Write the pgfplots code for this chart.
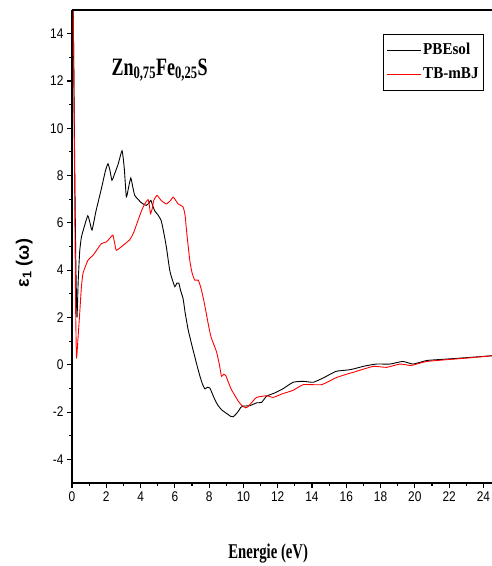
\documentclass[border=0pt]{standalone}
\usepackage{fontspec}
\setmainfont{Liberation Serif}
\newfontfamily\tickfont[FakeStretch=0.85]{Liberation Sans}
\newfontfamily\labsans{Liberation Sans}
\newfontfamily\titleserif[FakeStretch=0.72]{Liberation Serif}
\newfontfamily\xlabserif[FakeStretch=0.70]{Liberation Serif}
\newfontfamily\legserif[FakeStretch=0.91]{Liberation Serif}
\usepackage{pgfplots}
\pgfplotsset{compat=1.18}

\begin{document}
\begin{tikzpicture}
\path[use as bounding box] (-72pt,-83pt) rectangle (420pt,483pt);
\begin{axis}[
  at={(0,0)}, anchor=south west,
  scale only axis, width=420pt, height=473pt,
  xmin=0, xmax=24.5, ymin=-5, ymax=15,
  axis x line*=bottom, axis y line*=left,
  axis line style={line width=1.1pt, -},
  xtick={0,2,...,24}, ytick={-4,-2,...,14},
  minor x tick num=1, minor y tick num=1,
  tick align=outside,
  major tick length=5pt, minor tick length=3pt,
  every tick/.style={line width=1.1pt, black},
  /pgf/number format/assume math mode=true,
  ticklabel style={font=\tickfont\fontsize{14}{14}\selectfont},
  xlabel={Energie (eV)},
  xlabel style={at={(axis description cs:0.467,-0.150)}, anchor=center,
    font=\xlabserif\bfseries\fontsize{21}{21}\selectfont},
  ylabel={ε\textsubscript{1} (ω)},
  ylabel style={at={(axis description cs:-0.114,0.465)}, anchor=center,
    font=\labsans\bfseries\fontsize{18}{18}\selectfont},
  legend cell align=left,
  legend image code/.code={\draw[#1, line width=0.9pt] (0pt,0pt) -- (34pt,0pt);},
  legend style={at={(0.981,0.949)}, anchor=north east, draw=black,
    line width=0.8pt, inner xsep=3pt, inner ysep=4pt,
    nodes={text height=14pt, text depth=6pt},
    font=\legserif\bfseries\fontsize{16.6}{18}\selectfont},
]
% PBEsol
\addplot[black, line width=0.9pt, smooth, tension=0.3] coordinates {
(0.06,16) (0.15,9) (0.22,4.5) (0.29,2.0) (0.36,3.5) (0.45,4.8) (0.55,5.4)
(0.7,5.8) (0.92,6.3) (1.05,6.0) (1.17,5.7) (1.4,6.5) (1.7,7.4) (1.95,8.2)
(2.1,8.5) (2.22,8.2) (2.33,7.8) (2.5,8.1) (2.7,8.5) (2.92,9.05) (3.05,8.3)
(3.17,7.1) (3.3,7.5) (3.43,7.9) (3.55,7.5) (3.66,7.16) (3.85,7.0) (4.0,6.88)
(4.15,6.8) (4.34,6.74) (4.5,6.85) (4.6,6.95) (4.72,6.7) (4.83,6.5) (5.0,6.35)
(5.2,6.1) (5.35,5.6) (5.5,5.0) (5.7,4.0) (5.85,3.6) (6.0,3.3) (6.12,3.45)
(6.23,3.45) (6.35,3.1) (6.48,2.8) (6.6,2.2) (6.77,1.5) (6.9,1.1) (7.06,0.63)
(7.16,0.35) (7.3,-0.05) (7.45,-0.45) (7.6,-0.8) (7.75,-1.02) (7.9,-0.95)
(8.04,-0.98) (8.2,-1.25) (8.33,-1.47) (8.5,-1.7) (8.72,-1.9) (8.9,-2.0)
(9.1,-2.1) (9.25,-2.18) (9.4,-2.2) (9.55,-2.1) (9.7,-1.97) (9.85,-1.8)
(9.98,-1.75) (10.37,-1.73) (10.77,-1.61) (11.06,-1.59) (11.35,-1.33)
(11.83,-1.19) (12.3,-1.02) (12.9,-0.74) (13.5,-0.7) (14.07,-0.74)
(14.65,-0.56) (15.4,-0.28) (16.1,-0.22) (16.4,-0.18) (17.1,-0.05)
(17.77,0.03) (18.55,0.03) (19.3,0.14) (19.9,0.03) (20.7,0.18) (21.85,0.24)
(23.2,0.31) (24.5,0.38)
};
\addlegendentry{PBEsol}
% TB-mBJ
\addplot[red, line width=0.9pt, smooth, tension=0.3] coordinates {
(0.04,17) (0.1,13) (0.16,7) (0.21,2.5) (0.26,0.3) (0.33,0.9) (0.45,2.18)
(0.54,3.2) (0.64,3.86) (0.93,4.42) (1.23,4.63) (1.71,5.12) (2.0,5.19)
(2.3,5.43) (2.39,5.48) (2.5,5.1) (2.59,4.84) (2.98,5.05) (3.37,5.29)
(3.6,5.6) (3.85,6.1) (4.05,6.5) (4.24,6.8) (4.44,6.98) (4.52,6.7) (4.58,6.39)
(4.68,6.6) (4.77,6.95) (4.96,7.16) (5.2,6.95) (5.5,6.8) (5.75,6.95)
(5.9,7.09) (6.05,6.95) (6.19,6.8) (6.48,6.67) (6.6,6.3) (6.68,5.68)
(6.87,4.42) (7.0,3.9) (7.16,3.58) (7.36,3.58) (7.5,3.3) (7.65,2.85)
(7.8,2.3) (7.94,1.75) (8.1,1.2) (8.25,0.9) (8.43,0.55) (8.6,0.0) (8.72,-0.49)
(8.85,-0.4) (8.97,-0.46) (9.1,-0.7) (9.3,-1.05) (9.5,-1.3) (9.7,-1.54)
(9.9,-1.72) (10.14,-1.82) (10.3,-1.75) (10.47,-1.61) (10.77,-1.38)
(11.35,-1.31) (11.73,-1.38) (12.3,-1.22) (12.9,-1.08) (13.5,-0.84)
(14.56,-0.84) (15.43,-0.54) (16.2,-0.36) (16.4,-0.32) (17.57,-0.07)
(18.35,-0.11) (19.13,0.03) (19.8,-0.03) (20.7,0.14) (23.0,0.28) (24.5,0.38)
};
\addlegendentry{TB-mBJ}
\node[anchor=base west, font=\titleserif\bfseries\fontsize{25}{25}\selectfont]
  at (axis cs:2.1,12.25) {Zn\textsubscript{0,75}Fe\textsubscript{0,25}S};
\end{axis}
% top frame line
\draw[line width=1.1pt] (0,473pt) -- (420pt,473pt);
\end{tikzpicture}
\end{document}
